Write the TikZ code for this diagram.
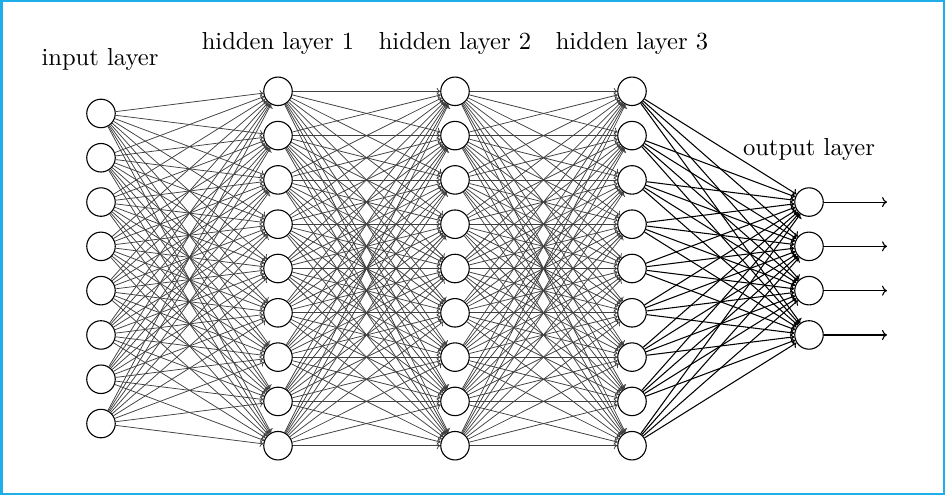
\documentclass[tikz,border=0pt]{standalone}
\usetikzlibrary{arrows.meta}
\definecolor{frameblue}{RGB}{30,175,235}
\begin{document}
\begin{tikzpicture}[x=1pt,y=-1pt,
  neuron/.style={circle,draw,line width=1.1pt,minimum size=28.5pt,inner sep=0pt,fill=white},
  edge/.style={line width=0.75pt,black!75,-{Computer Modern Rightarrow[length=3.5pt,width=7pt]}},
  outedge/.style={line width=1.05pt,black,-{Computer Modern Rightarrow[length=4pt,width=8pt]}},
  outarrow/.style={line width=1.1pt,black,-{Computer Modern Rightarrow[length=5pt,width=10pt]}},
  lab/.style={anchor=base,inner sep=0pt}]
\fill[white] (0,0) rectangle (945,495);
\useasboundingbox (0,0) rectangle (945,495);
\draw[frameblue,line width=2.5pt] (1.25,1.25) rectangle (943.75,493.75);
% nodes
\foreach \i in {1,...,8} \node[neuron] (I\i) at (101,{268.5+(\i-4.5)*44.3}) {};
\foreach \l/\x in {1/278,2/455,3/632}
  \foreach \i in {1,...,9} \node[neuron] (H\l-\i) at (\x,{268.5+(\i-5)*44.3}) {};
\foreach \i in {1,...,4} \node[neuron] (O\i) at (809,{268.5+(\i-2.5)*44.3}) {};
% connectors
\foreach \s in {1,...,8} \foreach \t in {1,...,9} \draw[edge] (I\s) -- (H1-\t);
\foreach \s in {1,...,9} \foreach \t in {1,...,9} {
  \draw[edge] (H1-\s) -- (H2-\t);
  \draw[edge] (H2-\s) -- (H3-\t);
}
\foreach \s in {1,...,9} \foreach \t in {1,...,4} \draw[outedge] (H3-\s) -- (O\t);
\foreach \i in {1,...,4} {
  \coordinate (E\i) at (887,{268.5+(\i-2.5)*44.3});
  \draw[outarrow] (O\i) -- (E\i);
}
% labels
\node[lab] (Lin) at (100,66) {\scalebox{2.46}{input layer}};
\node[lab] (Lh1) at (278,49) {\scalebox{2.46}{hidden layer 1}};
\node[lab] (Lh2) at (455,49) {\scalebox{2.46}{hidden layer 2}};
\node[lab] (Lh3) at (632,49) {\scalebox{2.46}{hidden layer 3}};
\node[lab] (Lout) at (809,155) {\scalebox{2.46}{output layer}};
\end{tikzpicture}
\end{document}
